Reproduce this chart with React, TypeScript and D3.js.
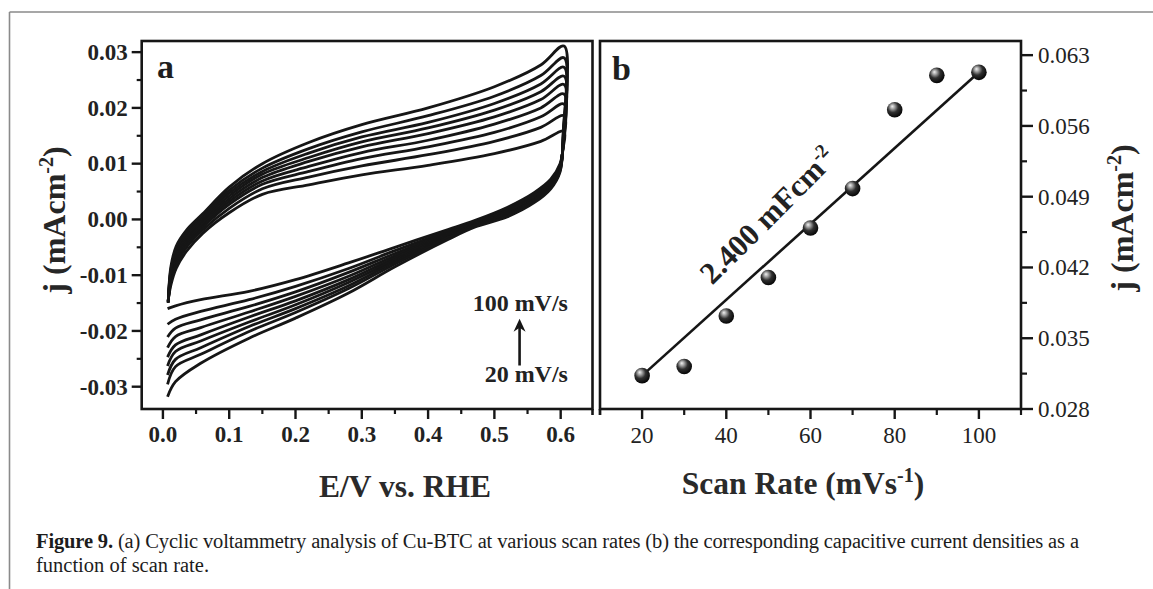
import { scaleLinear, line, curveCatmullRom } from "d3";

const W = 1153;
const H = 589;

// panel a: cyclic voltammograms, one row per scan rate (20 -> 100 mV/s)
const scanRates = [20, 30, 40, 50, 60, 70, 80, 90, 100];

const anodicE = [0.008, 0.012, 0.02, 0.035, 0.06, 0.1, 0.15, 0.22, 0.3, 0.4, 0.5, 0.57, 0.605];
const anodicJ = [
  [-0.0145, -0.0118, -0.0088, -0.0058, -0.0025, 0.0012, 0.0045, 0.0062, 0.008, 0.0097, 0.0118, 0.014, 0.0158],
  [-0.0146, -0.0112, -0.0081, -0.0051, -0.0019, 0.002, 0.0055, 0.0076, 0.0096, 0.0116, 0.014, 0.0165, 0.0186],
  [-0.0147, -0.0107, -0.0075, -0.0046, -0.0014, 0.0027, 0.0063, 0.0086, 0.0109, 0.013, 0.0156, 0.0184, 0.0207],
  [-0.0147, -0.0103, -0.007, -0.0041, -0.001, 0.0032, 0.0069, 0.0095, 0.012, 0.0142, 0.0171, 0.02, 0.0225],
  [-0.0148, -0.01, -0.0066, -0.0037, -0.0006, 0.0037, 0.0075, 0.0104, 0.013, 0.0154, 0.0184, 0.0215, 0.0242],
  [-0.0148, -0.0097, -0.0062, -0.0033, -0.0002, 0.0042, 0.0081, 0.0111, 0.0139, 0.0164, 0.0196, 0.0229, 0.0257],
  [-0.0149, -0.0093, -0.0058, -0.003, 0.0001, 0.0047, 0.0086, 0.0119, 0.0148, 0.0174, 0.0208, 0.0243, 0.0273],
  [-0.0149, -0.009, -0.0054, -0.0025, 0.0005, 0.0052, 0.0092, 0.0127, 0.0157, 0.0186, 0.0221, 0.0258, 0.029],
  [-0.015, -0.0085, -0.0048, -0.002, 0.001, 0.0058, 0.01, 0.0138, 0.017, 0.02, 0.0238, 0.0277, 0.0311],
];

const cathodicE = [0.604, 0.599, 0.585, 0.56, 0.52, 0.47, 0.43, 0.35, 0.28, 0.2, 0.13, 0.057, 0.019, 0.007];
const cathodicJ = [
  [0.013, 0.01, 0.0072, 0.0048, 0.0022, -0.0002, -0.0018, -0.005, -0.0078, -0.0108, -0.0129, -0.0144, -0.0155, -0.016],
  [0.0135, 0.0097, 0.0069, 0.0045, 0.0019, -0.0004, -0.0021, -0.0056, -0.0088, -0.012, -0.0144, -0.0165, -0.0179, -0.0188],
  [0.014, 0.0095, 0.0067, 0.0042, 0.0017, -0.0006, -0.0024, -0.0061, -0.0095, -0.013, -0.0156, -0.018, -0.0195, -0.0211],
  [0.0143, 0.0093, 0.0065, 0.004, 0.0015, -0.0007, -0.0026, -0.0065, -0.0102, -0.0138, -0.0166, -0.0194, -0.021, -0.023],
  [0.0147, 0.0092, 0.0063, 0.0038, 0.0013, -0.0009, -0.0028, -0.0069, -0.0108, -0.0146, -0.0175, -0.0207, -0.0225, -0.0247],
  [0.015, 0.009, 0.0061, 0.0036, 0.0011, -0.001, -0.003, -0.0073, -0.0113, -0.0153, -0.0184, -0.0218, -0.0237, -0.0263],
  [0.0153, 0.0089, 0.0059, 0.0035, 0.0009, -0.0011, -0.0032, -0.0076, -0.0119, -0.016, -0.0192, -0.023, -0.0251, -0.0279],
  [0.0156, 0.0087, 0.0057, 0.0033, 0.0007, -0.0012, -0.0033, -0.008, -0.0124, -0.0167, -0.0201, -0.0242, -0.0264, -0.0296],
  [0.016, 0.0085, 0.0055, 0.003, 0.0005, -0.0014, -0.0036, -0.0085, -0.0132, -0.0177, -0.0213, -0.0258, -0.0291, -0.0318],
];

const xTicksA = [0, 0.1, 0.2, 0.3, 0.4, 0.5, 0.6];
const xMinorA = [0.05, 0.15, 0.25, 0.35, 0.45, 0.55];
const yTicksA = [-0.03, -0.02, -0.01, 0, 0.01, 0.02, 0.03];
const yMinorA = [-0.025, -0.015, -0.005, 0.005, 0.015, 0.025];

// panel b: capacitive current vs scan rate
const rateB = [20, 30, 40, 50, 60, 70, 80, 90, 100];
const currentB = [0.0313, 0.0322, 0.0372, 0.041, 0.0459, 0.0498, 0.0576, 0.061, 0.0613];
const fitRate = [20, 100];
const fitCurrent = [0.0313, 0.0613];

const xTicksB = [20, 40, 60, 80, 100];
const xMinorB = [10, 30, 50, 70, 90, 110];
const yTicksB = [0.028, 0.035, 0.042, 0.049, 0.056, 0.063];
const yMinorB = [0.0315, 0.0385, 0.0455, 0.0525, 0.0595];

const serif = "'Liberation Serif', 'Times New Roman', serif";
const ink = "#161616";

const App = () => {
  const xA = scaleLinear().domain([-0.032, 0.648]).range([141.7, 592.5]);
  const yA = scaleLinear().domain([-0.034, 0.032]).range([409, 41]);
  const xB = scaleLinear().domain([10, 110]).range([600, 1021]);
  const yB = scaleLinear().domain([0.028, 0.0644]).range([409, 41]);

  const cvLine = line<[number, number]>()
    .x((d) => xA(d[0]))
    .y((d) => yA(d[1]))
    .curve(curveCatmullRom.alpha(0.5));

  const loops = scanRates.map((_, i) => {
    const pts: [number, number][] = [];
    anodicE.forEach((e, k) => pts.push([e, anodicJ[i][k]]));
    cathodicE.forEach((e, k) => pts.push([e, cathodicJ[i][k]]));
    return pts;
  });

  const [ax0, ax1] = xA.range();
  const [ay0, ay1] = yA.range();
  const [bx0, bx1] = xB.range();
  const [by0, by1] = yB.range();

  const arrowX = xA(0.538);
  const arrowTip = yA(-0.0178);

  return (
    <div style={{ position: "absolute", left: 0, top: 0 }}>
      <svg width={W} height={H} fontFamily={serif} style={{ display: "block", background: "#fff" }}>
        <defs>
          <radialGradient id="ball" cx="0.42" cy="0.38" r="0.62" fx="0.34" fy="0.28">
            <stop offset="0%" stopColor="#f2f2f2" />
            <stop offset="22%" stopColor="#a8a8a8" />
            <stop offset="55%" stopColor="#303030" />
            <stop offset="100%" stopColor="#050505" />
          </radialGradient>
          <clipPath id="clipA">
            <rect x={ax0} y={ay1} width={ax1 - ax0} height={ay0 - ay1} />
          </clipPath>
        </defs>

        {/* figure border */}
        <line x1={9.5} x2={W} y1={12} y2={12} stroke="#8a8a8a" strokeWidth={1.6} />
        <line x1={9.5} x2={9.5} y1={12} y2={H} stroke="#8a8a8a" strokeWidth={1.6} />

        {/* ---------- panel a ---------- */}
        <g clipPath="url(#clipA)">
          {loops.map((pts, i) => (
            <path key={`cv-${scanRates[i]}`} d={cvLine(pts) ?? ""} fill="none" stroke={ink} strokeWidth={2.8} strokeLinejoin="round" />
          ))}
        </g>
        <rect x={ax0} y={ay1} width={ax1 - ax0} height={ay0 - ay1} fill="none" stroke={ink} strokeWidth={2.6} />
        <line x1={ax1} x2={ax1} y1={ay0} y2={ay0 + 6} stroke={ink} strokeWidth={2.6} />

        {yTicksA.map((t) => (
          <g key={`ya-${t}`}>
            <line x1={ax0 - 10} x2={ax0} y1={yA(t)} y2={yA(t)} stroke={ink} strokeWidth={2.4} />
            <text x={ax0 - 14} y={yA(t)} dy="0.34em" textAnchor="end" fontSize={23} fontWeight="bold" fill="#222">
              {t.toFixed(2)}
            </text>
          </g>
        ))}
        {yMinorA.map((t) => (
          <line key={`yam-${t}`} x1={ax0 - 5} x2={ax0} y1={yA(t)} y2={yA(t)} stroke={ink} strokeWidth={2.2} />
        ))}
        {xTicksA.map((t) => (
          <g key={`xa-${t}`}>
            <line x1={xA(t)} x2={xA(t)} y1={ay0} y2={ay0 + 10} stroke={ink} strokeWidth={2.4} />
            <text x={xA(t)} y={442} textAnchor="middle" fontSize={23} fontWeight="bold" fill="#222">
              {t.toFixed(1)}
            </text>
          </g>
        ))}
        {xMinorA.map((t) => (
          <line key={`xam-${t}`} x1={xA(t)} x2={xA(t)} y1={ay0} y2={ay0 + 5} stroke={ink} strokeWidth={2.2} />
        ))}

        <text x={157} y={78} fontSize={34} fontWeight="bold" fill="#1e1e1e">a</text>

        <text x={xA(0.611)} y={yA(-0.0165)} textAnchor="end" fontSize={24} fontWeight="bold" fill="#222">100 mV/s</text>
        <text x={xA(0.611)} y={yA(-0.0291)} textAnchor="end" fontSize={24} fontWeight="bold" fill="#222">20 mV/s</text>
        <line x1={arrowX} x2={arrowX} y1={yA(-0.0262)} y2={arrowTip + 6} stroke={ink} strokeWidth={2.6} />
        <path
          d={`M${arrowX},${arrowTip} L${arrowX + 6},${arrowTip + 13} L${arrowX},${arrowTip + 9} L${arrowX - 6},${arrowTip + 13} Z`}
          fill={ink}
        />

        <text transform={`translate(65,${(ay0 + ay1) / 2 - 5}) rotate(-90)`} textAnchor="middle" fontSize={32} fontWeight="bold" fill="#262626">
          j (mAcm<tspan dy={-12} fontSize={20}>-2</tspan><tspan dy={12}>)</tspan>
        </text>
        <text x={405} y={497} textAnchor="middle" fontSize={31.5} fontWeight="bold" fill="#2a2a2a">
          E/V vs. RHE
        </text>

        {/* ---------- panel b ---------- */}
        <line
          x1={xB(fitRate[0])}
          y1={yB(fitCurrent[0])}
          x2={xB(fitRate[1])}
          y2={yB(fitCurrent[1])}
          stroke={ink}
          strokeWidth={2.6}
        />
        {rateB.map((r, i) => (
          <circle key={`pt-${r}`} cx={xB(r)} cy={yB(currentB[i])} r={7.8} fill="url(#ball)" />
        ))}
        <rect x={bx0} y={by1} width={bx1 - bx0} height={by0 - by1} fill="none" stroke={ink} strokeWidth={2.6} />
        <line x1={bx0} x2={bx0} y1={by0} y2={by0 + 6} stroke={ink} strokeWidth={2.6} />

        {yTicksB.map((t) => (
          <g key={`yb-${t}`}>
            <line x1={bx1} x2={bx1 + 12} y1={yB(t)} y2={yB(t)} stroke={ink} strokeWidth={2.4} />
            <text x={bx1 + 17} y={yB(t)} dy="0.34em" fontSize={23} fill="#222">
              {t.toFixed(3)}
            </text>
          </g>
        ))}
        {yMinorB.map((t) => (
          <line key={`ybm-${t}`} x1={bx1} x2={bx1 + 6} y1={yB(t)} y2={yB(t)} stroke={ink} strokeWidth={2.2} />
        ))}
        {xTicksB.map((t) => (
          <g key={`xb-${t}`}>
            <line x1={xB(t)} x2={xB(t)} y1={by0} y2={by0 + 10} stroke={ink} strokeWidth={2.4} />
            <text x={xB(t)} y={443} textAnchor="middle" fontSize={23} fill="#222">
              {t}
            </text>
          </g>
        ))}
        {xMinorB.map((t) => (
          <line key={`xbm-${t}`} x1={xB(t)} x2={xB(t)} y1={by0} y2={by0 + 6} stroke={ink} strokeWidth={2.2} />
        ))}

        <text x={612} y={80} fontSize={34} fontWeight="bold" fill="#1e1e1e">b</text>

        <text
          transform={`translate(${xB(51.6)},${yB(0.0464)}) rotate(-45)`}
          textAnchor="middle"
          fontSize={31}
          fontWeight="bold"
          fill="#222"
        >
          2.400 mFcm<tspan dy={-12} fontSize={19}>-2</tspan>
        </text>

        <text transform={`translate(1133,218) rotate(-90)`} textAnchor="middle" fontSize={32} fontWeight="bold" fill="#262626">
          j (mAcm<tspan dy={-12} fontSize={20}>-2</tspan><tspan dy={12}>)</tspan>
        </text>
        <text x={803} y={494} textAnchor="middle" fontSize={31.5} fontWeight="bold" fill="#2a2a2a">
          Scan Rate (mVs<tspan dy={-12} fontSize={20}>-1</tspan><tspan dy={12}>)</tspan>
        </text>

        {/* caption */}
        <text x={36} y={548} fontSize={20.5} fill="#1c1c1c" textLength={1043} lengthAdjust="spacing">
          <tspan fontWeight="bold">Figure 9.</tspan> (a) Cyclic voltammetry analysis of Cu-BTC at various scan rates (b) the corresponding capacitive current densities as a
        </text>
        <text x={36} y={572} fontSize={20.5} fill="#1c1c1c">
          function of scan rate.
        </text>
      </svg>
    </div>
  );
};

export default App;
